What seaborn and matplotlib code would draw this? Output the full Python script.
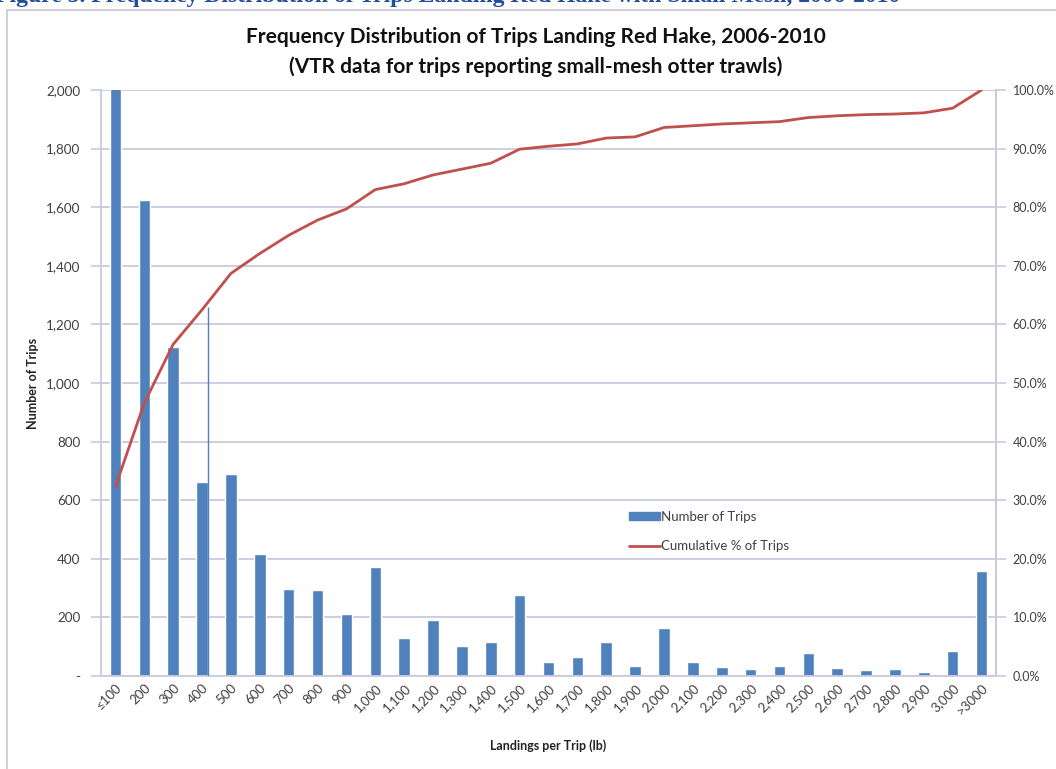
import numpy as np
import pandas as pd
import matplotlib
matplotlib.use("Agg")
import matplotlib.pyplot as plt
from matplotlib.patches import Rectangle, Patch
from matplotlib.lines import Line2D
from matplotlib.ticker import FuncFormatter, MultipleLocator
import seaborn as sns

# Landing-size classes (lb per trip)
categories = ["≤100", "200", "300", "400", "500", "600", "700", "800", "900",
              "1,000", "1,100", "1,200", "1,300", "1,400", "1,500", "1,600",
              "1,700", "1,800", "1,900", "2,000", "2,100", "2,200", "2,300",
              "2,400", "2,500", "2,600", "2,700", "2,800", "2,900", "3,000",
              ">3000"]

# Number of trips in each class
trip_counts = [3600, 1625, 1123, 662, 690, 418, 297, 294, 213, 372, 131, 191,
               103, 116, 277, 47, 65, 116, 34, 164, 47, 32, 24, 34, 77, 28,
               22, 24, 12, 85, 357]

# Cumulative share of trips (%)
cumulative_pct = [32.3, 46.6, 56.6, 62.5, 68.7, 72.1, 75.2, 77.8, 79.7, 83.0,
                  84.0, 85.5, 86.5, 87.5, 89.9, 90.4, 90.8, 91.8, 92.0, 93.6,
                  93.9, 94.2, 94.4, 94.6, 95.3, 95.6, 95.8, 95.9, 96.1, 96.9,
                  100.0]

# thin connector drawn at the edge of the 400 lb bar
connector_top = 1260

df = pd.DataFrame({"category": categories, "trips": trip_counts,
                   "cum": cumulative_pct})
df["pos"] = np.arange(len(df))

bar_blue = "#4F81BD"
line_red = "#C0504D"
grid_col = "#C9C9DF"
text_col = "#404040"

sns.set_theme(style="white")
plt.rcParams["font.family"] = ["Lato", "DejaVu Sans"]

fig = plt.figure(figsize=(10.56, 7.69), dpi=100)
ax = fig.add_axes([101 / 1056, 1 - 676 / 769, 895 / 1056, 586 / 769])

sns.barplot(data=df, x="category", y="trips", color=bar_blue, width=0.4,
            saturation=1, ax=ax, zorder=2)
ax.vlines(3 + 0.2, 0, connector_top, color=bar_blue, lw=1.0, zorder=3)

ax.set_xlim(-0.5, len(df) - 0.5)
ax.set_ylim(0, 2000)
ax.yaxis.set_major_locator(MultipleLocator(200))
ax.yaxis.set_major_formatter(FuncFormatter(lambda v, p: "-" if v == 0 else f"{v:,.0f}"))
ax.set_axisbelow(True)
ax.grid(axis="y", color=grid_col, lw=1.3, zorder=0)
ax.grid(axis="x", visible=False)

for side in ["left", "bottom", "right"]:
    ax.spines[side].set_color(grid_col)
    ax.spines[side].set_linewidth(1.3)
ax.spines["top"].set_visible(False)

ax.tick_params(axis="y", which="major", length=7, width=1.2, color=grid_col,
               labelsize=9.7, labelcolor=text_col, pad=8, left=True)
ax.tick_params(axis="x", length=0, labelsize=9.5, labelcolor=text_col, pad=4)
for lbl in ax.get_xticklabels():
    lbl.set_rotation(45)
    lbl.set_ha("right")
    lbl.set_rotation_mode("anchor")

ax.set_xlabel("Landings per Trip (lb)", fontsize=9, fontweight="bold",
              color="#222222", labelpad=16)
ax.set_ylabel("Number of Trips", fontsize=9, fontweight="bold",
              color="#222222", labelpad=0)
ax.yaxis.set_label_coords(-62 / 895, 0.5)

ax2 = ax.twinx()
sns.lineplot(data=df, x="pos", y="cum", color=line_red, lw=2.0, ax=ax2,
             zorder=4)
ax2.set_xlim(-0.5, len(df) - 0.5)
ax2.set_ylim(0, 100)
ax2.yaxis.set_major_locator(MultipleLocator(10))
ax2.yaxis.set_major_formatter(FuncFormatter(lambda v, p: f"{v:.1f}%"))
ax2.set_ylabel("")
ax2.set_xlabel("")
for side in ["left", "bottom", "top"]:
    ax2.spines[side].set_visible(False)
ax2.spines["right"].set_color(grid_col)
ax2.spines["right"].set_linewidth(1.3)
ax2.tick_params(axis="y", length=7, width=1.2, color=grid_col, labelsize=9,
                labelcolor=text_col, pad=5, right=True)
ax2.grid(False)

handles = [Patch(facecolor=bar_blue, edgecolor=bar_blue),
           Line2D([0], [0], color=line_red, lw=2)]
ax2.legend(handles, ["Number of Trips", "Cumulative % of Trips"],
           loc="upper left", bbox_to_anchor=(0.577, 0.302), frameon=False,
           fontsize=9.5, handlelength=2.3, handleheight=0.5, handletextpad=0.1,
           labelspacing=1.3, labelcolor=text_col)

fig.text(0.507, 1 - 37 / 769, "Frequency Distribution of Trips Landing Red Hake, 2006-2010",
         ha="center", va="center", fontsize=15, fontweight="bold", color="#111111")
fig.text(0.507, 1 - 67 / 769, "(VTR data for trips reporting small-mesh otter trawls)",
         ha="center", va="center", fontsize=15, fontweight="bold", color="#111111")

# chart frame
fig.patches.append(Rectangle((7 / 1056, -0.02), 1.1, 1 - 10 / 769 + 0.02,
                             transform=fig.transFigure, fill=False,
                             edgecolor="#C6C6D8", lw=1.2))

# caption running above the chart frame
fig.text(-0.005, 1 - 2 / 769,
         "Figure 5. Frequency Distribution of Trips Landing Red Hake with Small Mesh, 2006-2010",
         ha="left", va="baseline", fontsize=17, fontweight="bold",
         color="#1F4E9A", family=["Liberation Serif", "DejaVu Serif"])

fig.savefig("out.png", dpi=100)
